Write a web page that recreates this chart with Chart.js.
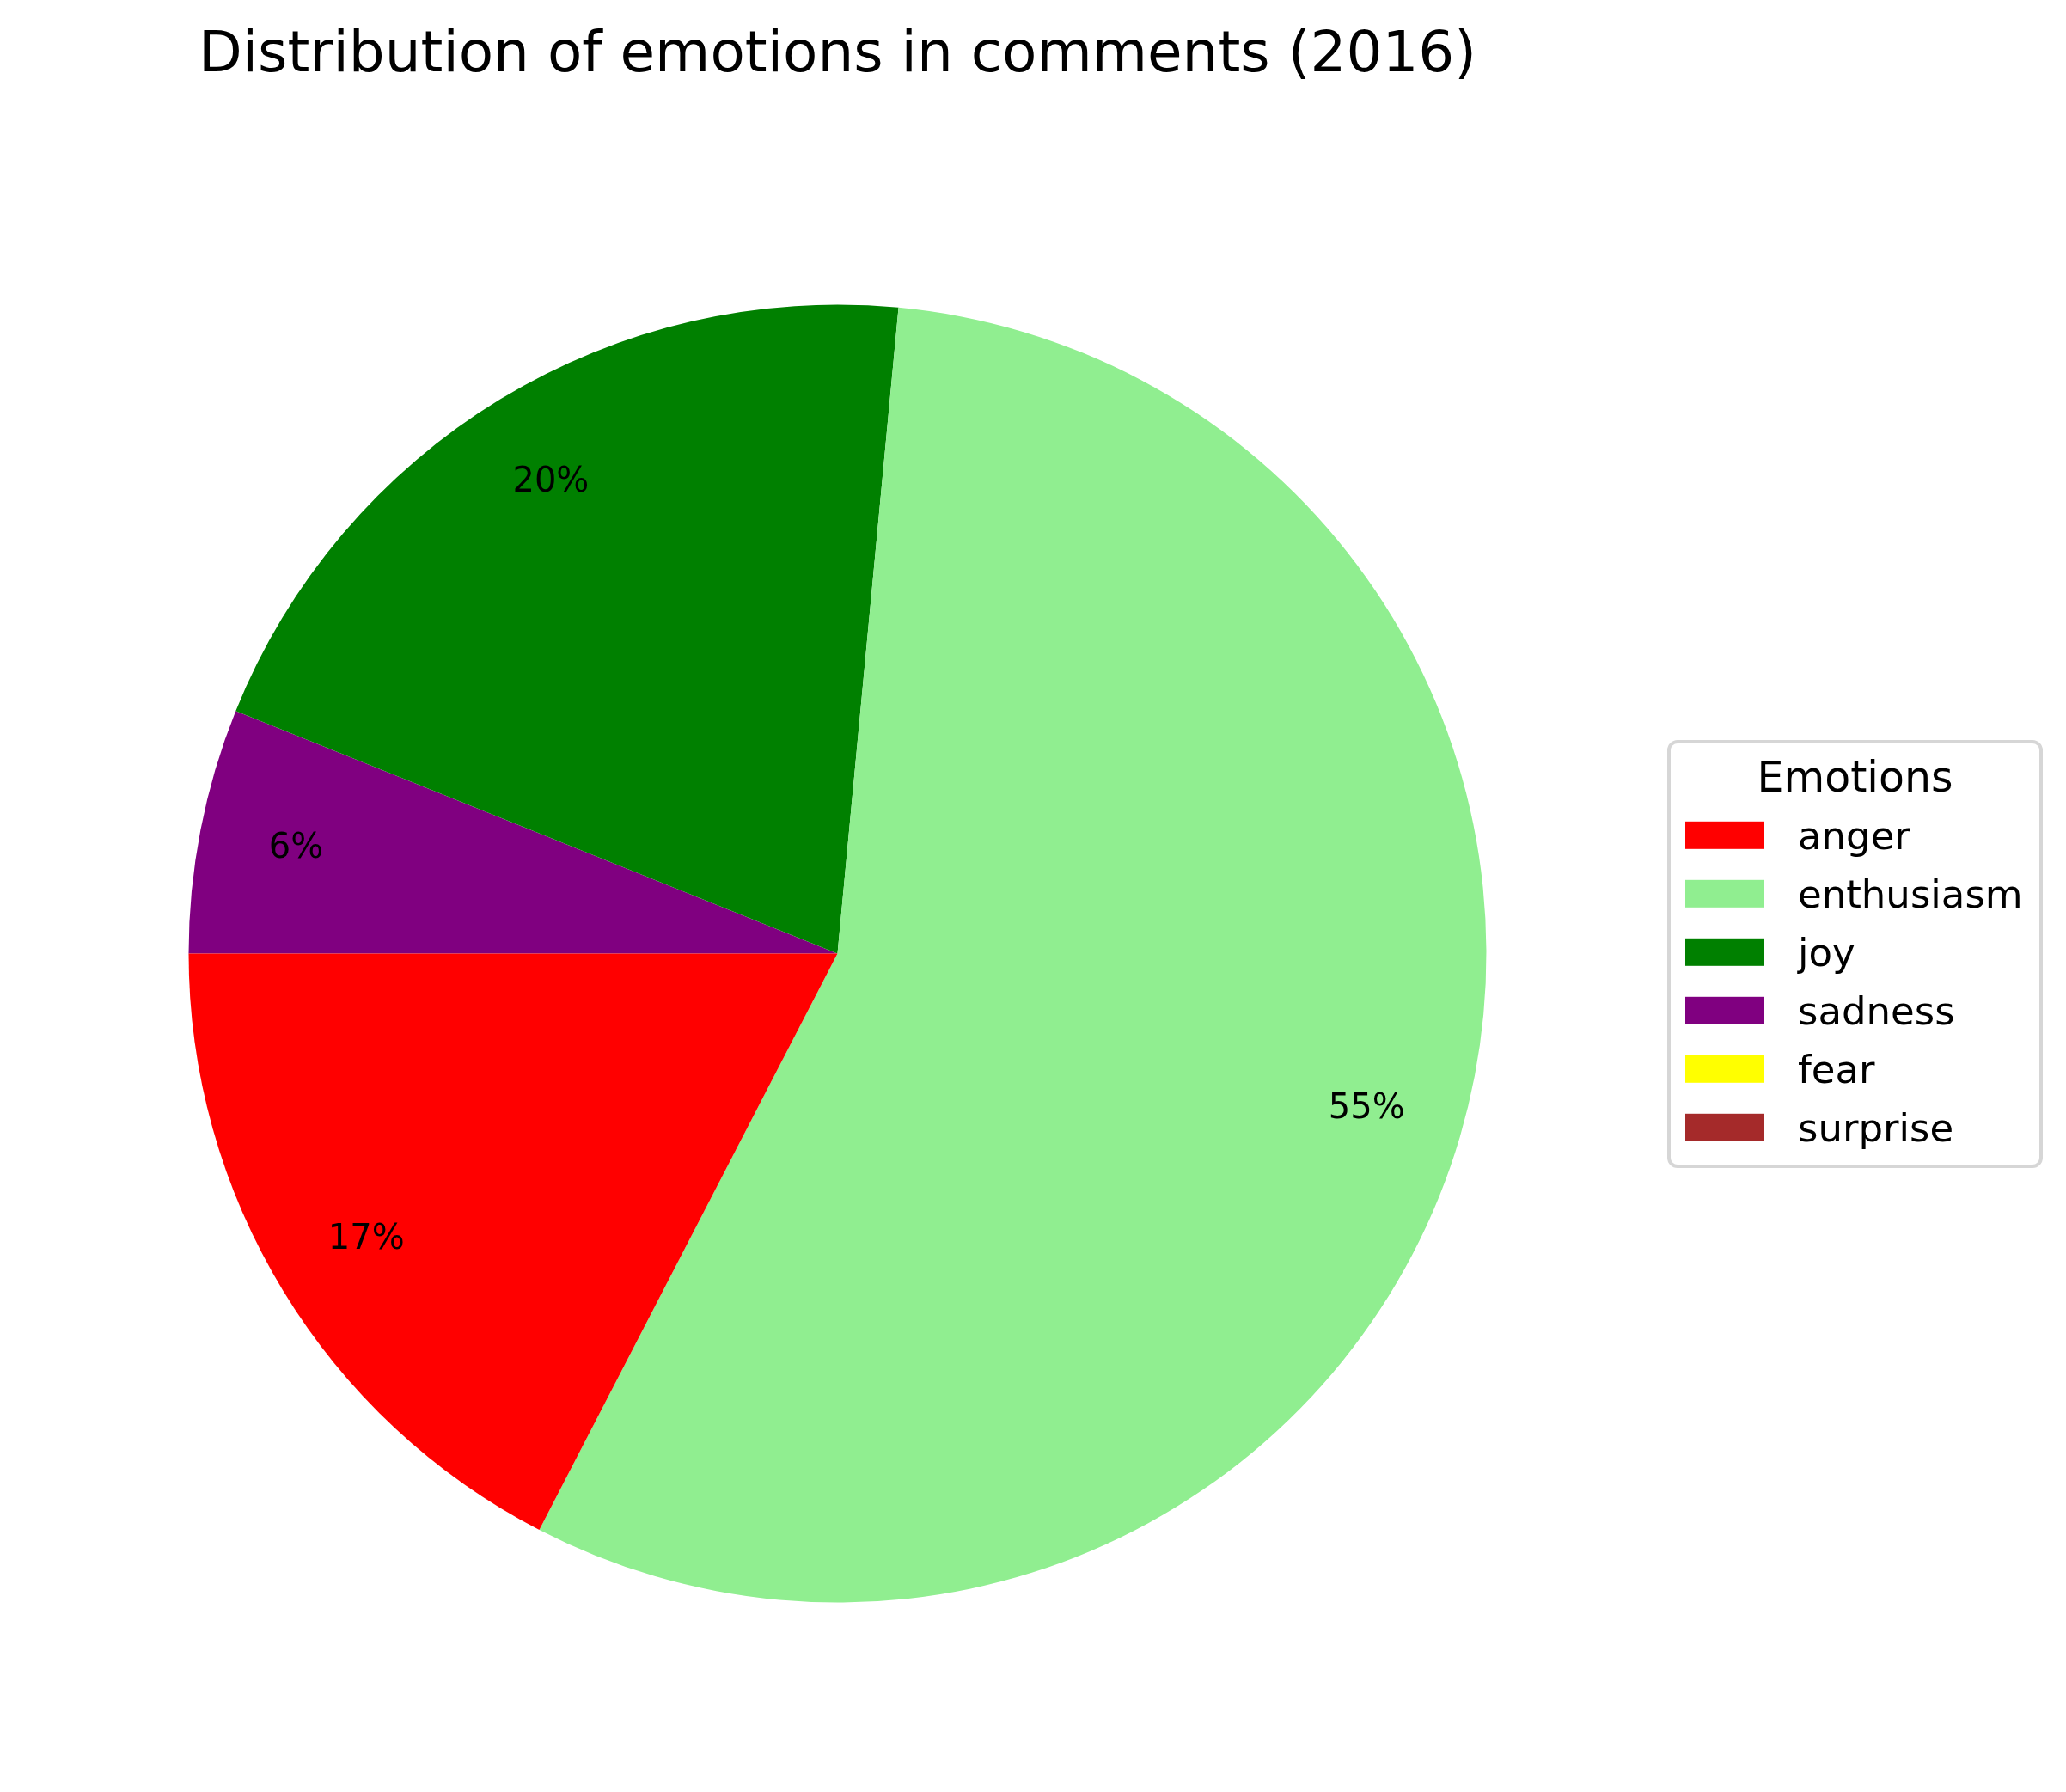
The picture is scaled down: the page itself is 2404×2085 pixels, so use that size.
<!DOCTYPE html>
<html>
<head>
<meta charset="utf-8">
<title>Distribution of emotions in comments (2016)</title>
<script src="https://cdn.jsdelivr.net/npm/chart.js@4.4.1/dist/chart.umd.min.js"></script>
<style>
  html, body { margin: 0; padding: 0; background: #ffffff; }
  #chart { display: block; }
</style>
</head>
<body>
<canvas id="chart" width="2404" height="2085"></canvas>
<script>
// legend order, as in the picture
const emotions = ["anger", "enthusiasm", "joy", "sadness", "fear", "surprise"];
const shares = [17.4, 56.1, 20.4, 6.1, 0, 0];
const pctLabels = ["17%", "55%", "20%", "6%", "", ""];
const colors = ["#ff0000", "#90ee90", "#008000", "#800080", "#ffff00", "#a52a2a"];

const FONT = "'DejaVu Sans', sans-serif";

// matplotlib draws counterclockwise from the left; chart.js goes clockwise,
// so feed the slices in reverse and start at 9 o'clock
const rev = (arr) => arr.slice().reverse();

const overlay = {
  id: "overlay",
  afterDatasetsDraw(chart) {
    const ctx = chart.ctx;
    const meta = chart.getDatasetMeta(0);
    const labels = rev(pctLabels);

    ctx.save();
    ctx.fillStyle = "#000000";
    ctx.font = "40px " + FONT;
    ctx.textAlign = "center";
    ctx.textBaseline = "middle";
    meta.data.forEach((arc, i) => {
      if (!labels[i]) return;
      const mid = (arc.startAngle + arc.endAngle) / 2;
      const r = arc.outerRadius * 0.85;
      ctx.fillText(labels[i], arc.x + Math.cos(mid) * r, arc.y + Math.sin(mid) * r);
    });
    ctx.restore();
  },
  afterDraw(chart) {
    const ctx = chart.ctx;
    ctx.save();

    // title
    ctx.fillStyle = "#000000";
    ctx.font = "66px " + FONT;
    ctx.textAlign = "center";
    ctx.textBaseline = "alphabetic";
    ctx.fillText("Distribution of emotions in comments (2016)", 974.5, 83);

    // legend frame
    const x0 = 1942, y0 = 863, x1 = 2375, y1 = 1357, rad = 10;
    ctx.beginPath();
    ctx.moveTo(x0 + rad, y0);
    ctx.arcTo(x1, y0, x1, y1, rad);
    ctx.arcTo(x1, y1, x0, y1, rad);
    ctx.arcTo(x0, y1, x0, y0, rad);
    ctx.arcTo(x0, y0, x1, y0, rad);
    ctx.closePath();
    ctx.fillStyle = "rgba(255,255,255,0.8)";
    ctx.fill();
    ctx.lineWidth = 4;
    ctx.strokeStyle = "#d6d6d6";
    ctx.stroke();

    ctx.fillStyle = "#000000";
    ctx.font = "49px " + FONT;
    ctx.fillText("Emotions", (x0 + x1) / 2, 921);

    ctx.font = "45px " + FONT;
    ctx.textAlign = "left";
    emotions.forEach((name, i) => {
      const cy = 971.8 + 68 * i;
      ctx.fillStyle = colors[i];
      ctx.fillRect(1961, cy - 16, 92, 32);
      ctx.fillStyle = "#000000";
      ctx.fillText(name, 2092, cy + 16);
    });

    ctx.restore();
  }
};

new Chart(document.getElementById("chart"), {
  type: "pie",
  data: {
    labels: rev(emotions),
    datasets: [
      {
        data: rev(shares),
        backgroundColor: rev(colors),
        borderWidth: 0,
      },
    ],
  },
  options: {
    responsive: false,
    animation: false,
    rotation: -90,
    layout: {
      padding: { left: 219.5, top: 354.5, right: 674.5, bottom: 220.5 },
    },
    plugins: {
      legend: { display: false },
      title: { display: false },
      tooltip: { enabled: false },
    },
  },
  plugins: [overlay],
});
</script>
</body>
</html>
